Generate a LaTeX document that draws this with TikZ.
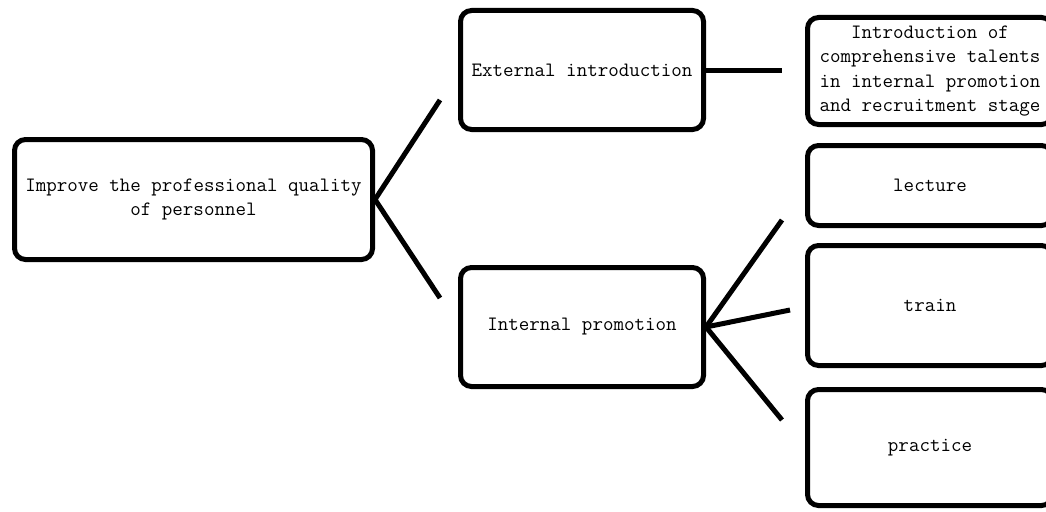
\documentclass[tikz,border=0pt]{standalone}
\usepackage{tikz}
\usetikzlibrary{positioning}
\tikzset{
  box/.style={draw, line width=5pt, rounded corners=11pt, align=center, inner sep=0pt,
    font=\fontsize{20.4}{24.5}\selectfont\ttfamily},
  link/.style={line width=5pt}
}

\begin{document}
\begin{tikzpicture}[x=1pt, y=-1pt]
  \useasboundingbox (0,0) rectangle (1046,511);
  \clip (0,0) rectangle (1046,511);

  \node[box, minimum width=358pt, minimum height=120pt] (imp) at (193.5,199.5)
    {Improve the professional quality\\of personnel};
  \node[box, minimum width=243pt, minimum height=119pt] (ext) at (582,70) {External introduction};
  \node[box, minimum width=243pt, minimum height=119pt] (intr) at (582,327) {Internal promotion};

  \node[box, minimum width=245pt, minimum height=107pt] (intro) at (930,71)
    {Introduction of\\comprehensive talents\\in internal promotion\\and recruitment stage};
  \node[box, minimum width=245pt, minimum height=80pt] (lec) at (930,185.5) {lecture};
  \node[box, minimum width=245pt, minimum height=120pt] (trn) at (930,305.5) {train};
  \node[box, minimum width=245pt, minimum height=116pt] (prc) at (930,447.5) {practice};

  % loose ends of the connectors
  \coordinate (impUp) at (440,100);
  \coordinate (impDown) at (440,298);
  \coordinate (extEnd) at (782,70);
  \coordinate (lecEnd) at (782,220);
  \coordinate (trnEnd) at (790,310);
  \coordinate (prcEnd) at (782,420);

  \draw[link] (impUp) -- (imp.east) -- (impDown);
  \draw[link] (ext.east) -- (extEnd);
  \draw[link] (lecEnd) -- (intr.east) -- (prcEnd);
  \draw[link] (intr.east) -- (trnEnd);
\end{tikzpicture}
\end{document}
